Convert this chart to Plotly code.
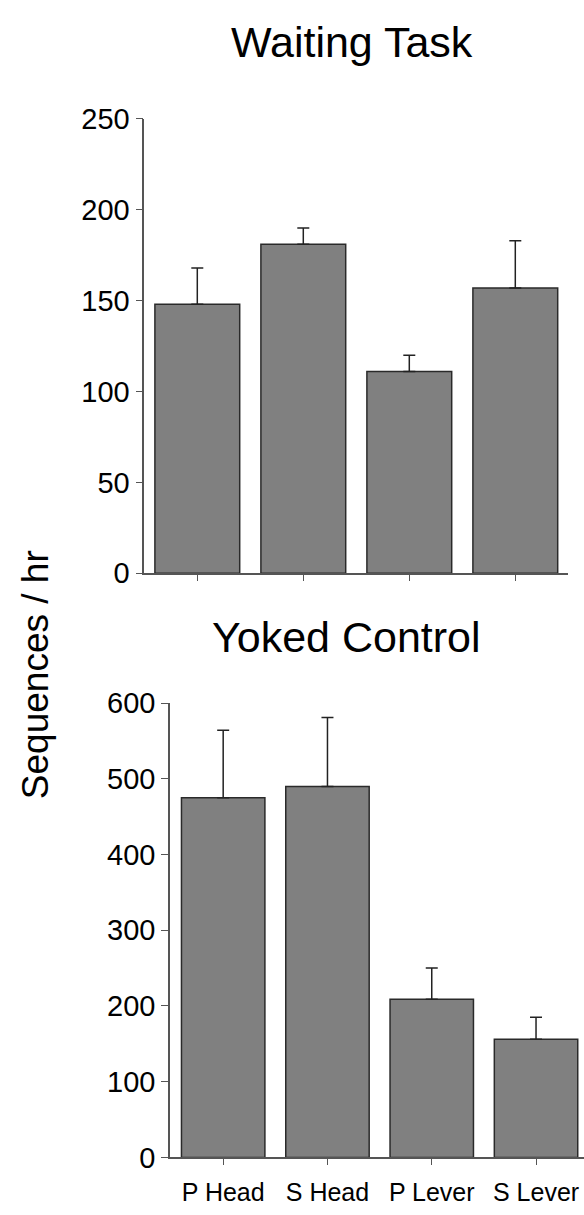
import plotly.graph_objects as go

categories = ["P Head", "S Head", "P Lever", "S Lever"]
waiting_mean = [148, 181, 111, 157]
waiting_err = [20, 9, 9, 26]
yoked_mean = [475, 490, 209, 156]
yoked_err = [89, 91, 41, 29]

W, H = 584, 1215
FONT = "Liberation Sans, Arial, sans-serif"
BAR = "#808080"
EDGE = "#2a2a2a"
AX = "#555555"

def px_x(v):
    return v / W

def px_y(v):
    return 1 - v / H

fig = go.Figure()

fig.add_trace(go.Bar(
    x=categories, y=waiting_mean, width=0.8,
    marker=dict(color=BAR, line=dict(color=EDGE, width=1.5)),
    error_y=dict(type="data", array=waiting_err, arrayminus=[0] * 4, symmetric=False,
                 color="#222222", thickness=1.5, width=6),
    xaxis="x", yaxis="y", showlegend=False,
))
fig.add_trace(go.Bar(
    x=categories, y=yoked_mean, width=0.8,
    marker=dict(color=BAR, line=dict(color=EDGE, width=1.5)),
    error_y=dict(type="data", array=yoked_err, arrayminus=[0] * 4, symmetric=False,
                 color="#222222", thickness=1.5, width=6),
    xaxis="x2", yaxis="y2", showlegend=False,
))

axis_common = dict(showgrid=False, zeroline=False, showline=True, linecolor=AX, linewidth=1.5,
                   ticks="outside", ticklen=7, tickwidth=1.2, tickcolor=AX,
                   tickfont=dict(family=FONT, size=29, color="black"))

fig.update_layout(
    width=W, height=H,
    margin=dict(l=0, r=0, t=0, b=0),
    paper_bgcolor="white", plot_bgcolor="white",
    bargap=0.2,
    xaxis=dict(axis_common, domain=[px_x(144.3), px_x(568.3)], range=[-0.5, 3.5],
               showticklabels=False, anchor="y", ticklen=6),
    yaxis=dict(axis_common, domain=[px_y(572.3), px_y(105.7)], range=[0, 250],
               tickvals=[0, 50, 100, 150, 200, 250], anchor="x"),
    xaxis2=dict(axis_common, domain=[px_x(170), 1.0], range=[-0.51, 3.46],
                anchor="y2", ticklen=6, ticklabelstandoff=6,
                tickfont=dict(family=FONT, size=25, color="black")),
    yaxis2=dict(axis_common, domain=[px_y(1172.3), px_y(705.7)], range=[0, 600],
                tickvals=[0, 100, 200, 300, 400, 500, 600], anchor="x2"),
    annotations=[
        dict(text="Waiting Task", x=px_x(352), y=px_y(27), xref="paper", yref="paper",
             xanchor="center", yanchor="middle", showarrow=False,
             font=dict(family=FONT, size=43, color="black")),
        dict(text="Yoked Control", x=px_x(346), y=px_y(638), xref="paper", yref="paper",
             xanchor="center", yanchor="middle", showarrow=False,
             font=dict(family=FONT, size=43, color="black")),
        dict(text="Sequences / hr", x=px_x(35), y=px_y(677), xref="paper", yref="paper",
             xanchor="center", yanchor="middle", showarrow=False, textangle=-90,
             font=dict(family=FONT, size=37, color="black")),
    ],
)

fig.write_html("out.html")
